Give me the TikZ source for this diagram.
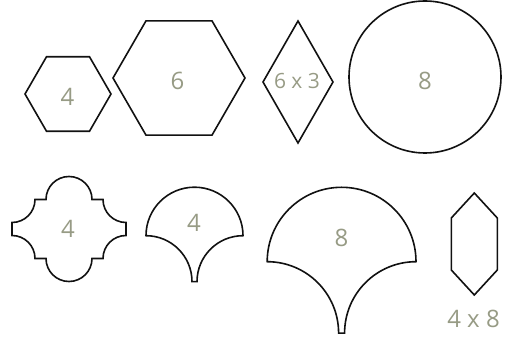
\documentclass[tikz,border=0pt]{standalone}
\usepackage{fontspec}
\setmainfont{Open Sans}
\usepackage{tikz}
\usetikzlibrary{shapes.geometric, positioning}
\definecolor{tileink}{HTML}{111111}
\definecolor{sizegray}{HTML}{979B85}
\tikzset{
  tile/.style={
    draw=tileink, line width=1.6pt, line join=miter,
    inner sep=0pt, outer sep=0pt,
  },
  hextile/.style={
    tile, regular polygon, regular polygon sides=6,
  },
  rhombtile/.style={
    tile, diamond,
    minimum width=70pt, minimum height=122pt,
  },
  roundtile/.style={
    tile, circle,
  },
  size/.style={
    text=sizegray, font=\fontsize{24}{24}\selectfont, inner sep=0pt,
  },
}

\begin{document}
\begin{tikzpicture}[x=1pt, y=1pt]
  \useasboundingbox (0,0) rectangle (509,337);

  % top row
  \node[hextile, minimum size=86pt] (hexsmall) at (68,243) {};
  \node[hextile, minimum size=132pt] (hexlarge) at (179,259) {};
  \node[rhombtile] (rhomb) at (298,255) {};
  \node[roundtile, minimum size=152pt] (round) at (425,260) {};

  \node[size] (hexsmalllbl) at (67.5,240.5) {4};
  \node[size] (hexlargelbl) at (177.5,256) {6};
  \node[size, font=\fontsize{21}{21}\selectfont] (rhomblbl) at (297,255.5) {6 x 3};
  \node[size] (roundlbl) at (425,256.5) {8};

  % bottom row
  \coordinate (arab) at (69,108);
  \coordinate (fansmall) at (194.5,101.3);
  \coordinate (fanlarge) at (341.6,75.3);
  \coordinate (picket) at (474.3,93);

  \draw[tile, shift={(arab)}]
    (-57,-6.5) -- (-57,6.5) arc(-90:0:23) -- (-23,29.5) arc(180:0:23)
    -- (34,29.5) arc(180:270:23) -- (57,-6.5) arc(90:180:23)
    -- (23,-29.5) arc(0:-180:23) -- (-34,-29.5) arc(0:90:23) -- cycle;
  \draw[tile, shift={(fansmall)}]
    (-48.5,0) arc(180:0:48.5) arc(90:180:46) -- (-2.5,-46) arc(0:90:46) -- cycle;
  \draw[tile, shift={(fanlarge)}]
    (-74.4,0) arc(180:0:74.4) arc(90:180:71.4) -- (-3,-71.4) arc(0:90:71.4) -- cycle;
  \draw[tile, shift={(picket)}]
    (0,51) -- (23,26) -- (23,-26) -- (0,-51) -- (-23,-26) -- (-23,26) -- cycle;

  \node[size] (arablbl) at (68,108) {4};
  \node[size] (fansmalllbl) at (194,114.5) {4};
  \node[size] (fanlargelbl) at (341.5,99) {8};
  \node[size] (picketlbl) at (473.5,18.5) {4 x 8};
\end{tikzpicture}
\end{document}
